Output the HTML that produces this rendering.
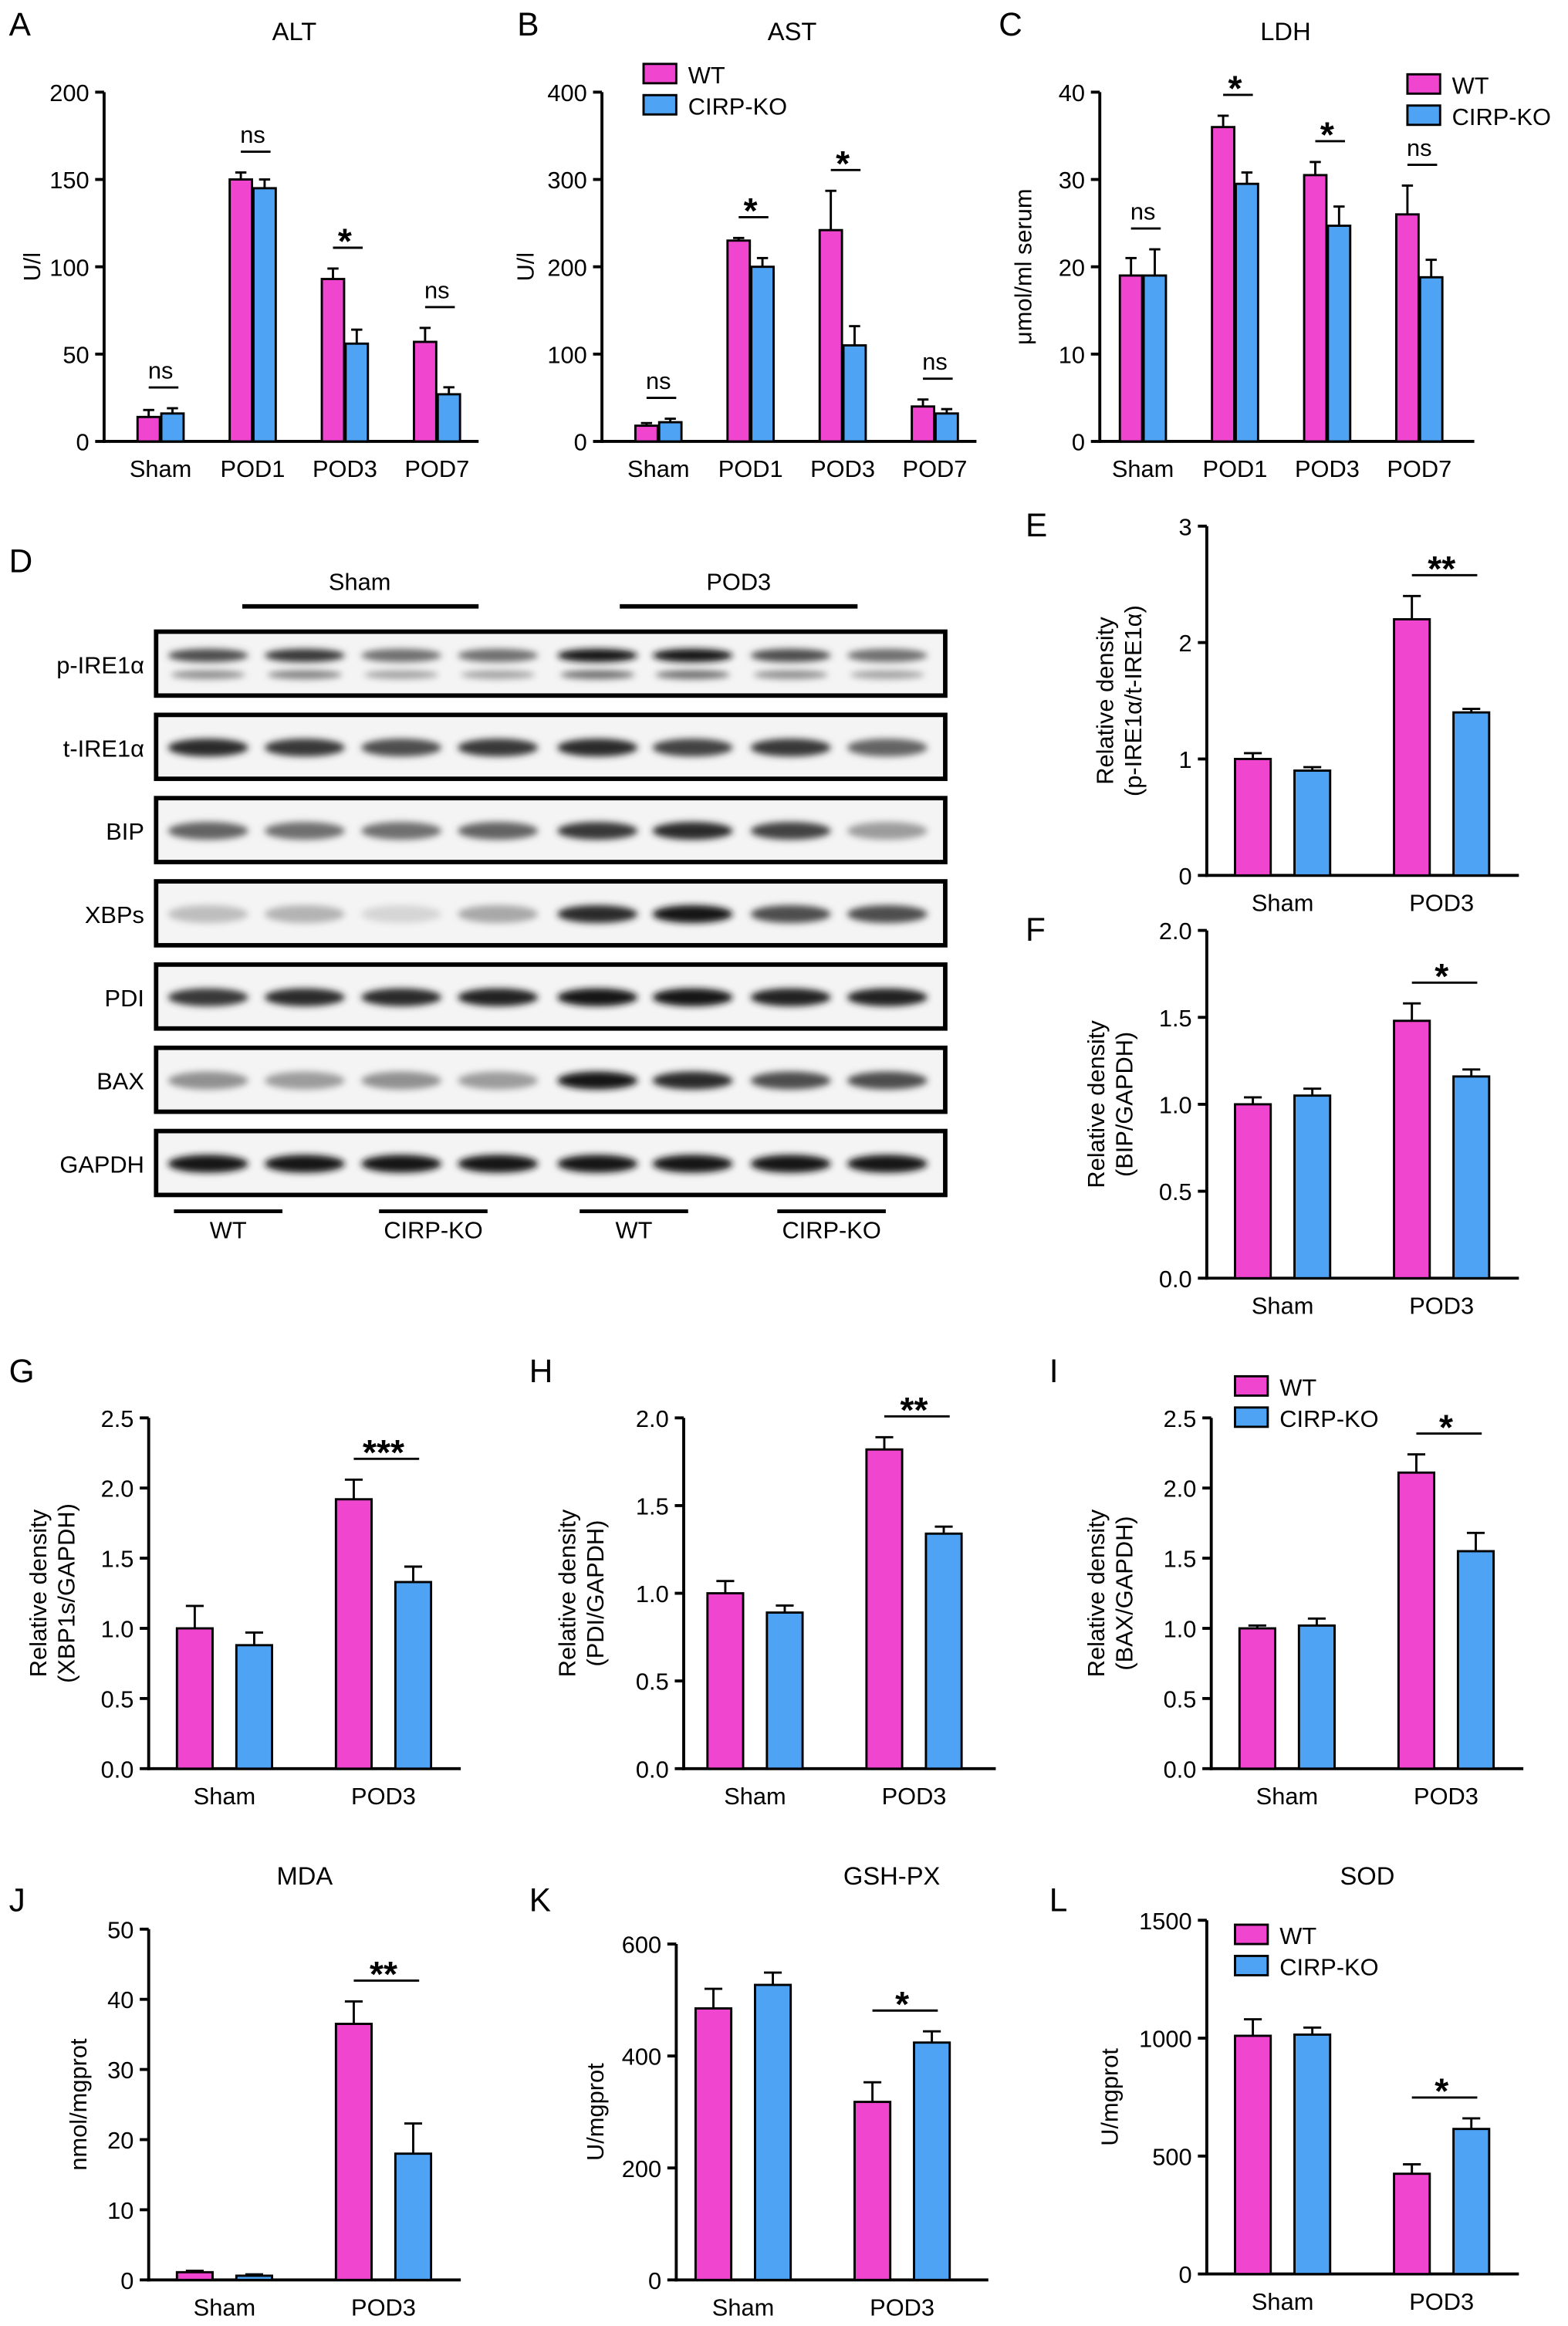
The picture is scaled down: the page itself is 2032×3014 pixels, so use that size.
<!DOCTYPE html>
<html><head><meta charset="utf-8"><style>
html,body{margin:0;padding:0;background:#fff}
svg{display:block;font-family:"Liberation Sans",sans-serif}
</style></head><body>
<svg id="fig" xmlns="http://www.w3.org/2000/svg" width="2032" height="3014" viewBox="0 0 1055 1565">
<defs><filter id="blur" x="-20%" y="-100%" width="140%" height="300%"><feGaussianBlur stdDeviation="2.2"/></filter></defs>
<g id="root"></g>
</svg>
<script>
var PINK="#f046cf", BLUE="#4ea3f5";
// Panel data arrays
var catsA=["Sham","POD1","POD3","POD7"], wtA=[14,150,93,57], koA=[16,145,56,27], wtErrA=[4,4,6,8], koErrA=[3,5,8,4], sigA=["ns","ns","*","ns"], ticksA=[0,50,100,150,200];
var catsB=["Sham","POD1","POD3","POD7"], wtB=[18,230,242,40], koB=[22,200,110,32], wtErrB=[3,3,45,8], koErrB=[4,10,22,5], sigB=["ns","*","*","ns"], ticksB=[0,100,200,300,400];
var catsC=["Sham","POD1","POD3","POD7"], wtC=[19,36,30.5,26], koC=[19,29.5,24.7,18.8], wtErrC=[2,1.3,1.5,3.3], koErrC=[3,1.3,2.2,2], sigC=["ns","*","*","ns"], ticksC=[0,10,20,30,40];
var cats2=["Sham","POD3"];
var wtE=[1.0,2.2], koE=[0.9,1.4], wtErrE=[0.05,0.2], koErrE=[0.03,0.03], sigE=["","**"], ticksE=[0,1,2,3];
var wtF=[1.0,1.48], koF=[1.05,1.16], wtErrF=[0.04,0.1], koErrF=[0.04,0.04], sigF=["","*"], ticksF=[0,0.5,1.0,1.5,2.0];
var wtG=[1.0,1.92], koG=[0.88,1.33], wtErrG=[0.16,0.14], koErrG=[0.09,0.11], sigG=["","***"], ticksG=[0,0.5,1.0,1.5,2.0,2.5];
var wtH=[1.0,1.82], koH=[0.89,1.34], wtErrH=[0.07,0.07], koErrH=[0.04,0.04], sigH=["","**"], ticksH=[0,0.5,1.0,1.5,2.0];
var wtI=[1.0,2.11], koI=[1.02,1.55], wtErrI=[0.02,0.13], koErrI=[0.05,0.13], sigI=["","*"], ticksI=[0,0.5,1.0,1.5,2.0,2.5];
var wtJ=[1.1,36.5], koJ=[0.6,18], wtErrJ=[0.2,3.2], koErrJ=[0.2,4.3], sigJ=["","**"], ticksJ=[0,10,20,30,40,50];
var wtK=[485,318], koK=[527,424], wtErrK=[35,35], koErrK=[22,20], sigK=["","*"], ticksK=[0,200,400,600];
var wtL=[1010,425], koL=[1015,615], wtErrL=[70,40], koErrL=[30,45], sigL=["","*"], ticksL=[0,500,1000,1500];
// Western blot intensities (0-1) per row, 8 lanes
var blotRows=["p-IRE1α","t-IRE1α","BIP","XBPs","PDI","BAX","GAPDH"];
var bandP=[0.7,0.8,0.55,0.55,0.95,0.95,0.7,0.55];
var bandT=[0.85,0.8,0.7,0.8,0.85,0.75,0.8,0.6];
var bandBIP=[0.6,0.55,0.55,0.6,0.8,0.85,0.75,0.35];
var bandX=[0.2,0.25,0.1,0.3,0.85,0.95,0.7,0.7];
var bandPDI=[0.8,0.85,0.85,0.9,0.95,0.95,0.9,0.9];
var bandBAX=[0.4,0.35,0.4,0.35,0.95,0.85,0.7,0.7];
var bandG=[0.95,0.95,0.95,0.95,0.95,0.95,0.95,0.95];

var NS="http://www.w3.org/2000/svg", root=document.getElementById("root");
function mk(tag,attrs,parent,txt){var e=document.createElementNS(NS,tag);for(var k in attrs)e.setAttribute(k,attrs[k]);if(txt!==undefined)e.textContent=txt;(parent||root).appendChild(e);return e;}

function panel(o){
  var g=mk("g",{});
  
  
  var ymax=o.ticks[o.ticks.length-1];
  function Y(v){return o.y0-(v/ymax)*(o.y0-o.y1);}
  var n=o.cats.length;
  function X(i){return o.x0+o.pad+i*o.step;}
  var ax=mk("line",{x1:o.x0,y1:o.y1,x2:o.x0,y2:o.y0+1,stroke:"#000","stroke-width":2},g);
  
  
  var xa=mk("line",{x1:o.x0-1,y1:o.y0,x2:o.x0+o.xlen,y2:o.y0,stroke:"#000","stroke-width":2},g);
  
  
  o.ticks.forEach(function(t){
    var y=Y(t);
    mk("line",{x1:o.x0-6,y1:y,x2:o.x0,y2:y,stroke:"#000","stroke-width":2},g);
    var lbl=mk("text",{x:o.x0-10,y:y+6,"text-anchor":"end","font-size":16},g,o.fmt?t.toFixed(1):String(t));
    
    
  });
  var yt=mk("text",{transform:"translate("+o.ylx+","+((o.y0+o.y1)/2)+") rotate(-90)","text-anchor":"middle","font-size":16},g);
  
  
  o.ylab.forEach(function(l,i){mk("tspan",{x:0,dy:i?19:(o.ylab.length>1?-9:0)},yt,l);});
  if(o.title){var tt=mk("text",{x:o.tx,y:o.ty,"text-anchor":"middle","font-size":17},g,o.title);
    
    }
  for(var i=0;i<n;i++){
    var cx=X(i);
    var cl=mk("text",{x:cx,y:o.y0+24,"text-anchor":"middle","font-size":16},g,o.cats[i]);
    
    
    [[o.wt,o.wtErr,PINK,-1],[o.ko,o.koErr,BLUE,1]].forEach(function(s){
      var v=s[0][i],e=s[1][i],bx=cx+s[3]*o.off-o.bw/2;
      var top=Y(v+e);
      mk("line",{x1:cx+s[3]*o.off,y1:Y(v),x2:cx+s[3]*o.off,y2:top,stroke:"#000","stroke-width":1.5},g);
      mk("line",{x1:cx+s[3]*o.off-o.bw/4,y1:top,x2:cx+s[3]*o.off+o.bw/4,y2:top,stroke:"#000","stroke-width":1.5},g);
      var r=mk("rect",{x:bx,y:Y(v),width:o.bw,height:o.y0-Y(v),fill:s[2],stroke:"#000","stroke-width":1.5},g);
      
      
    });
    var sg=o.sig[i];
    if(sg){
      var m=Math.max(o.wt[i]+o.wtErr[i],o.ko[i]+o.koErr[i]);
      var ly=Y(m)-o.sigGap;
      mk("line",{x1:cx-o.off,y1:ly,x2:cx+o.off+4,y2:ly,stroke:"#000","stroke-width":1.5},g);
      var st=mk("text",{x:cx,y:sg=="ns"?ly-6:ly+4,"text-anchor":"middle","font-size":sg=="ns"?16:24,"font-weight":sg=="ns"?"normal":"bold"},g,sg);
      
      
    }
  }
  if(o.leg){
    [["WT",PINK],["CIRP-KO",BLUE]].forEach(function(l,j){
      var r=mk("rect",{x:o.leg[0],y:o.leg[1]+j*21-7,width:22,height:13,fill:l[1],stroke:"#000","stroke-width":1.5},g);
      
      
      var t=mk("text",{x:o.leg[0]+30,y:o.leg[1]+j*21+6,"font-size":16},g,l[0]);
      
      
    });
  }
}
function letter(t,x,y){var e=mk("text",{x:x,y:y,"font-size":22},root,t);
  
  }

var four={pad:38,step:62,bw:15,off:8,xlen:252,sigGap:14};
function ext(a,b){var r={};for(var k in a)r[k]=a[k];for(var k in b)r[k]=b[k];return r;}
panel(ext(four,{name:"chart-alt",x0:70,y0:297,y1:62,cats:catsA,wt:wtA,ko:koA,wtErr:wtErrA,koErr:koErrA,sig:sigA,ticks:ticksA,ylab:["U/l"],ylx:27,title:"ALT",tx:198,ty:27}));
panel(ext(four,{name:"chart-ast",x0:405,y0:297,y1:62,cats:catsB,wt:wtB,ko:koB,wtErr:wtErrB,koErr:koErrB,sig:sigB,ticks:ticksB,ylab:["U/l"],ylx:359,title:"AST",tx:533,ty:27,leg:[433,50]}));
panel(ext(four,{name:"chart-ldh",x0:740,y0:297,y1:62,cats:catsC,wt:wtC,ko:koC,wtErr:wtErrC,koErr:koErrC,sig:sigC,ticks:ticksC,ylab:["μmol/ml serum"],ylx:694,title:"LDH",tx:865,ty:27,pad:29,leg:[947,57]}));
var two={cats:cats2,pad:51,step:107,bw:24,off:20,xlen:210,sigGap:14,fmt:true};
panel(ext(two,{name:"chart-e",x0:812,y0:589,y1:354,wt:wtE,ko:koE,wtErr:wtErrE,koErr:koErrE,sig:sigE,ticks:ticksE,fmt:false,ylab:["Relative density","(p-IRE1α/t-IRE1α)"],ylx:758}));
panel(ext(two,{name:"chart-f",x0:812,y0:860,y1:626,wt:wtF,ko:koF,wtErr:wtErrF,koErr:koErrF,sig:sigF,ticks:ticksF,ylab:["Relative density","(BIP/GAPDH)"],ylx:752}));
panel(ext(two,{name:"chart-g",x0:100,y0:1190,y1:954,wt:wtG,ko:koG,wtErr:wtErrG,koErr:koErrG,sig:sigG,ticks:ticksG,ylab:["Relative density","(XBP1s/GAPDH)"],ylx:40}));
panel(ext(two,{name:"chart-h",x0:460,y0:1190,y1:954,pad:48,wt:wtH,ko:koH,wtErr:wtErrH,koErr:koErrH,sig:sigH,ticks:ticksH,ylab:["Relative density","(PDI/GAPDH)"],ylx:396}));
panel(ext(two,{name:"chart-i",x0:815,y0:1190,y1:954,wt:wtI,ko:koI,wtErr:wtErrI,koErr:koErrI,sig:sigI,ticks:ticksI,ylab:["Relative density","(BAX/GAPDH)"],ylx:752,leg:[831,933]}));
panel(ext(two,{name:"chart-mda",x0:100,y0:1534,y1:1298,wt:wtJ,ko:koJ,wtErr:wtErrJ,koErr:koErrJ,sig:sigJ,ticks:ticksJ,fmt:false,ylab:["nmol/mgprot"],ylx:58,title:"MDA",tx:205,ty:1268}));
panel(ext(two,{name:"chart-gsh-px",x0:455,y0:1534,y1:1308,pad:45,wt:wtK,ko:koK,wtErr:wtErrK,koErr:koErrK,sig:sigK,ticks:ticksK,fmt:false,ylab:["U/mgprot"],ylx:406,title:"GSH-PX",tx:600,ty:1268}));
panel(ext(two,{name:"chart-sod",x0:812,y0:1530,y1:1292,wt:wtL,ko:koL,wtErr:wtErrL,koErr:koErrL,sig:sigL,ticks:ticksL,fmt:false,ylab:["U/mgprot"],ylx:752,title:"SOD",tx:920,ty:1268,leg:[831,1302]}));

[["A",6,24],["B",348,24],["C",672,24],["D",6,385],["E",690,361],["F",690,633],["G",6,930],["H",356,930],["I",706,930],["J",6,1286],["K",356,1286],["L",706,1286]].forEach(function(a){letter(a[0],a[1],a[2]);});

var bands=[bandP,bandT,bandBIP,bandX,bandPDI,bandBAX,bandG];
var lanes=[140,205,270,335,402,466,532,597];
var wb=mk("g",{});


blotRows.forEach(function(name,r){
  var y=425+r*56;
  var bx=mk("rect",{x:105,y:y,width:531,height:43,fill:"#f4f4f4",stroke:"#000","stroke-width":3},wb);
  
  
  var lb=mk("text",{x:97,y:y+28,"text-anchor":"end","font-size":16},wb,name);
  
  
  lanes.forEach(function(lx,i){
    var v=bands[r][i],c=Math.round(235-v*225);
    var cy=r==0?y+16:y+22;
    mk("ellipse",{cx:lx,cy:cy,rx:27,ry:r==0?4.5:6,fill:"rgb("+c+","+c+","+c+")",filter:"url(#blur)"},wb);
    if(r==0){var c2=Math.round(235-v*130);mk("ellipse",{cx:lx,cy:y+29,rx:25,ry:3,fill:"rgb("+c2+","+c2+","+c2+")",filter:"url(#blur)"},wb);}
  });
});
[[163,322,408,"Sham",242,397],[417,577,408,"POD3",497,397]].forEach(function(s){
  mk("line",{x1:s[0],y1:s[2],x2:s[1],y2:s[2],stroke:"#000","stroke-width":3},wb);
  var t=mk("text",{x:s[4],y:s[5],"text-anchor":"middle","font-size":16},wb,s[3]);
  
  
});
[[117,190,"WT"],[255,328,"CIRP-KO"],[390,463,"WT"],[523,596,"CIRP-KO"]].forEach(function(s){
  mk("line",{x1:s[0],y1:815,x2:s[1],y2:815,stroke:"#000","stroke-width":2.5},wb);
  var t=mk("text",{x:(s[0]+s[1])/2,y:833,"text-anchor":"middle","font-size":16},wb,s[2]);
  
  
});
</script>
</body></html>
